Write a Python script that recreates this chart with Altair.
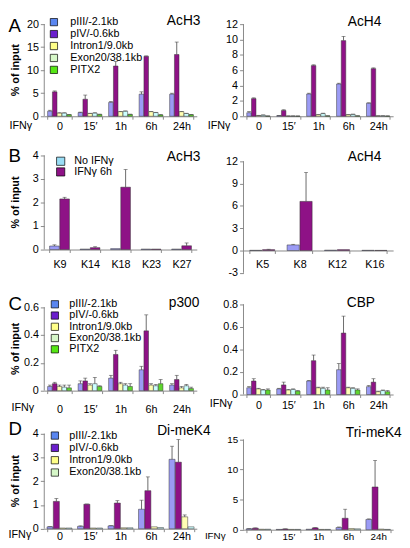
import altair as alt
import pandas as pd

FONT = "Liberation Sans"

times = ["0", "15\u2032", "1h", "6h", "24h"]
loci5 = ["pIII/-2.1kb", "pIV/-0.6kb", "Intron1/9.0kb", "Exon20/38.1kb", "PITX2"]
loci4 = loci5[:4]
b_series = ["No IFN\u03b3", "IFN\u03b3 6h"]
b_left_cats = ["K9", "K14", "K18", "K23", "K27"]
b_right_cats = ["K5", "K8", "K12", "K16"]

bar_colors = ["#9b9bf5", "#8e1286", "#ffffb4", "#ccffff", "#5ed62e"]
legend_colors = ["#5a86f0", "#6a1ecc", "#ffff88", "#d6f7c8", "#55e614"]
b_bar_colors = ["#9b9bf5", "#8e1286"]
b_legend_colors = ["#99ddf5", "#8e1286"]

# ---- A: AcH3 (values / errors per locus, over times)
ach3_v = [[1.1, 0.8, 3.0, 4.8, 4.8], [5.3, 3.7, 10.9, 13.0, 13.4],
          [0.7, 0.6, 1.0, 1.0, 1.0], [0.7, 0.7, 1.1, 0.8, 0.6], [0.35, 0.4, 0.4, 0.3, 0.35]]
ach3_e = [[0.2, 0.1, 0.2, 0.5, 0.2], [0.2, 0.9, 1.0, 0.1, 2.7],
          [0.05, 0.05, 0.05, 0.05, 0.05], [0.05, 0.05, 0.05, 0.05, 0.05], [0.05, 0.05, 0.05, 0.05, 0.05]]
# ---- A: AcH4
ach4_v = [[0.46, 0.08, 2.9, 4.2, 1.7], [2.3, 0.75, 6.6, 9.85, 6.2],
          [0.1, 0.03, 0.2, 0.2, 0.05], [0.15, 0.03, 0.35, 0.25, 0.05], [0.03, 0.02, 0.05, 0.05, 0.03]]
ach4_e = [[0.15, 0.02, 0.1, 0.1, 0.05], [0.1, 0.1, 0.1, 0.55, 0.1],
          [0.02, 0.01, 0.02, 0.02, 0.01], [0.02, 0.01, 0.05, 0.02, 0.01], [0.01, 0.01, 0.01, 0.01, 0.01]]
# ---- B: AcH3 lysines
b3_v = [[0.15, 0.02, 0.04, 0.02, 0.02], [2.15, 0.08, 2.65, 0.02, 0.16]]
b3_e = [[0.05, 0.0, 0.0, 0.0, 0.0], [0.07, 0.04, 0.75, 0.0, 0.12]]
# ---- B: AcH4 lysines
b4_v = [[0.03, 0.75, 0.05, 0.03], [0.12, 6.6, 0.12, 0.02]]
b4_e = [[0.0, 0.08, 0.0, 0.0], [0.05, 3.9, 0.0, 0.0]]
# ---- C: p300
p300_v = [[0.03, 0.05, 0.09, 0.15, 0.04], [0.05, 0.07, 0.26, 0.43, 0.08],
          [0.03, 0.04, 0.05, 0.04, 0.02], [0.025, 0.05, 0.04, 0.035, 0.035], [0.02, 0.03, 0.03, 0.05, 0.015]]
p300_e = [[0.01, 0.02, 0.02, 0.025, 0.01], [0.01, 0.02, 0.03, 0.115, 0.03],
          [0.01, 0.01, 0.01, 0.01, 0.01], [0.015, 0.045, 0.01, 0.01, 0.01], [0.02, 0.005, 0.02, 0.03, 0.01]]
# ---- C: CBP
cbp_v = [[0.06, 0.05, 0.12, 0.22, 0.07], [0.12, 0.085, 0.30, 0.545, 0.11],
         [0.05, 0.04, 0.06, 0.06, 0.025], [0.04, 0.045, 0.055, 0.055, 0.035], [0.04, 0.03, 0.04, 0.04, 0.025]]
cbp_e = [[0.01, 0.005, 0.005, 0.055, 0.01], [0.02, 0.025, 0.05, 0.15, 0.03],
         [0.005, 0.005, 0.005, 0.005, 0.005], [0.005, 0.005, 0.01, 0.005, 0.005], [0.01, 0.005, 0.02, 0.01, 0.01]]
# ---- D: Di-meK4
dime_v = [[0.08, 0.1, 0.12, 0.82, 2.92], [1.15, 1.03, 1.08, 1.6, 2.8],
          [0.03, 0.03, 0.04, 0.08, 0.5], [0.03, 0.03, 0.04, 0.05, 0.08]]
dime_e = [[0.01, 0.02, 0.01, 0.38, 0.55], [0.12, 0.01, 0.1, 0.58, 0.95],
          [0.0, 0.0, 0.0, 0.0, 0.08], [0.0, 0.0, 0.0, 0.0, 0.0]]
# ---- D: Tri-meK4
trime_v = [[0.15, 0.05, 0.08, 0.35, 1.7], [0.25, 0.12, 0.3, 1.9, 7.1],
           [0.08, 0.05, 0.05, 0.2, 0.1], [0.08, 0.05, 0.05, 0.15, 0.05]]
trime_e = [[0.03, 0.0, 0.0, 0.1, 0.1], [0.05, 0.02, 0.05, 1.5, 4.4],
           [0.0, 0.0, 0.0, 0.0, 0.0], [0.0, 0.0, 0.0, 0.0, 0.0]]

# ---------------- layout helpers
FX, FY = 0.985, 0.99
COLS = [(39, 158), (245, 155)]
ROWS = [(5, 135), (140, 142), (282, 130), (412, 133)]   # (top, height) of each row of cells


def txt(text, x, y, size=11, weight="normal", align="left", angle=0, color="black"):
    kw = dict(font=FONT, fontSize=size, fontWeight=weight, align=align, baseline="middle", color=color)
    if angle:
        kw["angle"] = angle
    return alt.Chart(pd.DataFrame({"t": [text]})).mark_text(**kw).encode(
        text="t:N", x=alt.value(x), y=alt.value(y))


def make_df(cats, series, vals, errs):
    rows = []
    for si, s in enumerate(series):
        for ci, c in enumerate(cats):
            v = vals[si][ci]
            e = errs[si][ci]
            rows.append({"cat": c, "series": s, "value": v, "err": e, "top": v + e})
    return pd.DataFrame(rows)


def panel(col, row, cats, series, vals, errs, colors, vtop, vbot, ytop, ybot, ticks,
          title, title_xy, xlab_y, pad_inner, letter=None, ifn_xy=None, legend=None,
          ytitle=False, lab_size=11):
    cx0, W = COLS[col]
    T, H = ROWS[row]
    ppu = (ybot - ytop) / (vtop - vbot)
    d1 = vtop + (ytop - T) / ppu
    d0 = vbot - (T + H - ybot) / ppu
    y0_ref = ytop + vtop * ppu
    xoff = -(T + H - y0_ref) * FY
    lab_pad = (xlab_y - y0_ref) * FY - 3 - 5

    def px(x):
        return (x - cx0) * FX

    def py(y):
        return (y - T) * FY

    df = make_df(cats, series, vals, errs)
    xaxis = alt.Axis(title=None, orient="bottom", offset=xoff, ticks=True,
                     tickBand="extent", tickSize=3, tickColor="#888",
                     domainColor="#888", labelAngle=0, labelFont=FONT,
                     labelFontSize=lab_size, labelColor="black",
                     labelPadding=lab_pad, labelOverlap=False)
    xscale = alt.Scale(paddingInner=pad_inner, paddingOuter=pad_inner / 2)
    xo = alt.XOffset("series:N", sort=series, scale=alt.Scale(paddingInner=0.05))
    yscale = alt.Scale(domain=[d0, d1], nice=False, zero=False, clamp=False)
    yaxis = alt.Axis(title=None, values=ticks, domain=False, grid=False,
                     tickSize=4, tickColor="#888", labelFont=FONT,
                     labelFontSize=lab_size, labelColor="black", labelPadding=2,
                     labelOverlap=False, labelBound=False, labelFlush=False,
                     labelExpr="datum.value < 0 ? '-' + abs(datum.value) : '' + datum.value")

    def X():
        return alt.X("cat:N", sort=cats, scale=xscale, axis=xaxis)

    def Y(field):
        return alt.Y(field, scale=yscale, axis=yaxis)

    base = alt.Chart(df)
    yline = alt.Chart(pd.DataFrame({"value": [vbot], "b": [vtop]})).mark_rule(
        color="#888", strokeWidth=1).encode(x=alt.value(0), y=Y("value:Q"), y2="b:Q")
    bars = base.mark_bar(stroke="#333", strokeWidth=0.5).encode(
        x=X(), xOffset=xo, y=alt.Y("value:Q", scale=yscale, axis=yaxis, stack=None),
        color=alt.Color("series:N", sort=series,
                        scale=alt.Scale(domain=series, range=colors), legend=None))
    edf = base.transform_filter("datum.err > 0")
    erule = edf.mark_rule(color="#444", strokeWidth=0.8).encode(
        x=X(), xOffset=xo, y=Y("value:Q"), y2="top:Q")
    ecap = edf.mark_tick(color="#444", thickness=0.8, size=4).encode(
        x=X(), xOffset=xo, y=Y("top:Q"))

    layers = [yline, bars, erule, ecap,
              txt(title, px(title_xy[0]), py(title_xy[1]), size=14)]
    if letter:
        layers.append(txt(letter[0], px(2), py(letter[1]), size=19))
    if ytitle:
        layers.append(txt("% of input", px(9.5), py((ytop + ybot) / 2), size=11,
                          weight="bold", align="center", angle=270))
    if ifn_xy:
        layers.append(txt("IFN\u03b3", px(ifn_xy[0]), py(ifn_xy[1]), size=lab_size))
    if legend:
        names, lcols, sx, tx, ly0, ldy, ssize = legend
        for i, (n, c) in enumerate(zip(names, lcols)):
            yy = py(ly0 + i * ldy)
            layers.append(alt.Chart(pd.DataFrame({"n": [n]})).mark_square(
                size=ssize, opacity=1, fill=c, stroke="black", strokeWidth=0.7).encode(
                x=alt.value(px(sx)), y=alt.value(yy)))
            layers.append(txt(n, px(tx), yy, size=11))
    return alt.layer(*layers).properties(width=W * FX, height=H * FY)


pA1 = panel(0, 0, times, loci5, ach3_v, ach3_e, bar_colors, 20, 0, 12, 107,
            [0, 5, 10, 15, 20], "AcH3", (166, 9), 117, 0.22, letter=("A", 14),
            ifn_xy=(3, 117), ytitle=True,
            legend=(loci5, legend_colors, 49, 66, 10, 12.3, 55))
pA2 = panel(1, 0, times, loci5, ach4_v, ach4_e, bar_colors, 12, 0, 12, 107,
            [0, 2, 4, 6, 8, 10, 12], "AcH4", (353, 10), 117, 0.22, ifn_xy=(208, 117))
pB1 = panel(0, 1, b_left_cats, b_series, b3_v, b3_e, b_bar_colors, 4, 0, 147, 244,
            [0, 1, 2, 3, 4], "AcH3", (166, 149), 258, 0.35, letter=("B", 148),
            ytitle=True,
            legend=(b_series, b_legend_colors, 56, 70, 153, 11, 70))
pB2 = panel(1, 1, b_right_cats, b_series, b4_v, b4_e, b_bar_colors, 12, -3, 153, 268,
            [-3, 0, 3, 6, 9, 12], "AcH4", (353, 149), 258, 0.33)
pC1 = panel(0, 2, times, loci5, p300_v, p300_e, bar_colors, 0.6, 0, 303, 389,
            [0, 0.2, 0.4, 0.6], "p300", (168, 299), 407, 0.22, letter=("C", 300),
            ifn_xy=(5, 407), ytitle=True,
            legend=(loci5, legend_colors, 50, 65, 300, 11.6, 55))
pC2 = panel(1, 2, times, loci5, cbp_v, cbp_e, bar_colors, 0.8, 0, 300, 393,
            [0, 0.2, 0.4, 0.6, 0.8], "CBP", (352, 299), 403, 0.22, ifn_xy=(210, 403))
pD1 = panel(0, 3, times, loci4, dime_v, dime_e, bar_colors[:4], 4, 0, 433, 531,
            [0, 1, 2, 3, 4], "Di-meK4", (156, 430), 538, 0.18, letter=("D", 428),
            ifn_xy=(2, 538), ytitle=True,
            legend=(loci4, legend_colors[:4], 50, 65, 435, 12.7, 55))
pD2 = panel(1, 3, times, loci4, trime_v, trime_e, bar_colors[:4], 15, 0, 439, 532,
            [0, 5, 10, 15], "Tri-meK4", (351, 432), 539, 0.18, ifn_xy=(205, 539),
            lab_size=10)

chart = alt.concat(pA1, pA2, pB1, pB2, pC1, pC2, pD1, pD2, columns=2,
                   spacing={"row": 0, "column": 48 * FX}, bounds="flush",
                   align="each").resolve_scale(
    x="independent", y="independent", color="independent", xOffset="independent"
).configure_view(strokeWidth=0).properties(padding=0, background="white")

chart.save("out.html", embed_options={"renderer": "svg", "actions": False})
